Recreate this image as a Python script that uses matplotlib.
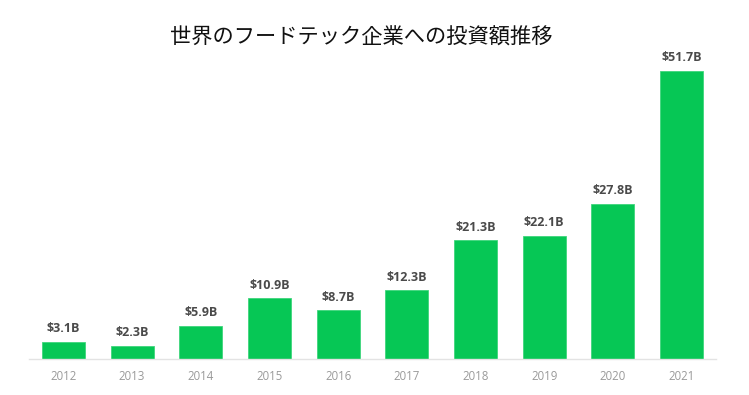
import matplotlib
matplotlib.use("Agg")
import matplotlib.pyplot as plt

# データ (単位: 10億ドル)
years = ["2012", "2013", "2014", "2015", "2016", "2017", "2018", "2019", "2020", "2021"]
invest = [3.1, 2.3, 5.9, 10.9, 8.7, 12.3, 21.3, 22.1, 27.8, 51.7]
labels = ["$3.1B", "$2.3B", "$5.9B", "$10.9B", "$8.7B", "$12.3B", "$21.3B", "$22.1B", "$27.8B", "$51.7B"]

green = "#06C755"

fig = plt.figure(figsize=(7.49, 3.95), dpi=100)
ax = fig.add_axes([29/749, 36/395, 687/749, 306.7/395])

x = range(len(years))
ax.bar(x, invest, width=0.625, color=green, edgecolor="#3fd67c", linewidth=0.6)

for i, v in enumerate(invest):
    ax.annotate(labels[i], (i, v), xytext=(0, 9.5), textcoords="offset points",
                ha="center", va="center", fontsize=9, fontweight="bold",
                color="#4a4a4a", family="Open Sans")

ax.set_xlim(-0.5, 9.5)
ax.set_ylim(0, 55)
ax.set_xticks(list(x))
ax.set_xticklabels(years, fontsize=8.3, color="#9a9a9a", family="Open Sans")
ax.tick_params(axis="x", length=0, pad=8)
ax.set_yticks([])
for s in ["top", "right", "left"]:
    ax.spines[s].set_visible(False)
ax.spines["bottom"].set_color("#e3e3e3")
ax.spines["bottom"].set_linewidth(1)

fig.text(361/749, 1 - 38/395, "世界のフードテック企業への投資額推移", ha="center", va="center",
         fontsize=15.3, family=["Noto Sans CJK JP", "DejaVu Sans"], color="#111111")

fig.savefig("out.png", dpi=100)
